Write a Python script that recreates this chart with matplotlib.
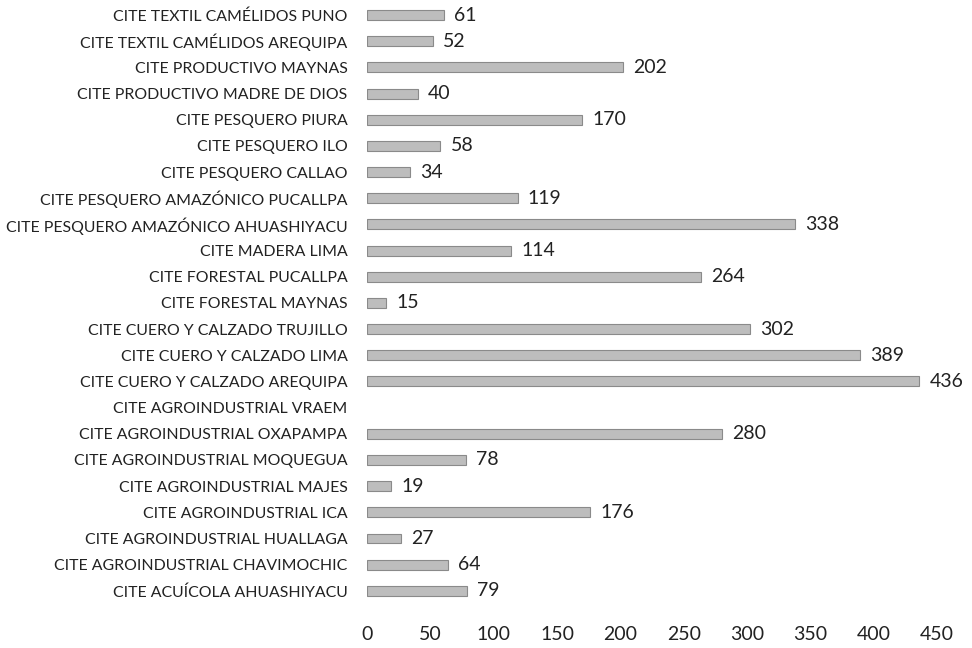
import matplotlib
matplotlib.use("Agg")
import matplotlib.pyplot as plt

categories = [
    "CITE TEXTIL CAMÉLIDOS PUNO",
    "CITE TEXTIL CAMÉLIDOS AREQUIPA",
    "CITE PRODUCTIVO MAYNAS",
    "CITE PRODUCTIVO MADRE DE DIOS",
    "CITE PESQUERO PIURA",
    "CITE PESQUERO ILO",
    "CITE PESQUERO CALLAO",
    "CITE PESQUERO AMAZÓNICO PUCALLPA",
    "CITE PESQUERO AMAZÓNICO AHUASHIYACU",
    "CITE MADERA LIMA",
    "CITE FORESTAL PUCALLPA",
    "CITE FORESTAL MAYNAS",
    "CITE CUERO Y CALZADO TRUJILLO",
    "CITE CUERO Y CALZADO LIMA",
    "CITE CUERO Y CALZADO AREQUIPA",
    "CITE AGROINDUSTRIAL VRAEM",
    "CITE AGROINDUSTRIAL OXAPAMPA",
    "CITE AGROINDUSTRIAL MOQUEGUA",
    "CITE AGROINDUSTRIAL MAJES",
    "CITE AGROINDUSTRIAL ICA",
    "CITE AGROINDUSTRIAL HUALLAGA",
    "CITE AGROINDUSTRIAL CHAVIMOCHIC",
    "CITE ACUÍCOLA AHUASHIYACU",
]
values = [61, 52, 202, 40, 170, 58, 34, 119, 338, 114, 264, 15, 302, 389, 436,
          None, 280, 78, 19, 176, 27, 64, 79]
xticks = [0, 50, 100, 150, 200, 250, 300, 350, 400, 450]

plt.rcParams['font.family'] = ['Lato', 'DejaVu Sans']

fig = plt.figure(figsize=(9.72, 6.48), dpi=100)
ax = fig.add_axes([0.3776, 0.068, 0.5864, 0.929])

n = len(categories)
ypos = list(range(n - 1, -1, -1))
for y, v in zip(ypos, values):
    if v is None:
        continue
    ax.barh(y, v, height=0.38, color='#bdbdbd', edgecolor='#8a8a8a', linewidth=0.8)
    ax.text(v + 8, y, str(v), va='center', ha='left', fontsize=14, color='#222222')

ax.set_yticks(ypos)
ax.set_yticklabels(categories, fontsize=11.4, color='#222222')
ax.set_ylim(-0.5, n - 0.5)
ax.set_xlim(0, 450)
ax.set_xticks(xticks)
ax.set_xticklabels([str(t) for t in xticks], fontsize=14, color='#222222')
ax.tick_params(axis='y', length=0, pad=14)
ax.tick_params(axis='x', length=0, pad=16)
for s in ax.spines.values():
    s.set_visible(False)

fig.savefig("out.png", dpi=100, facecolor='white')
